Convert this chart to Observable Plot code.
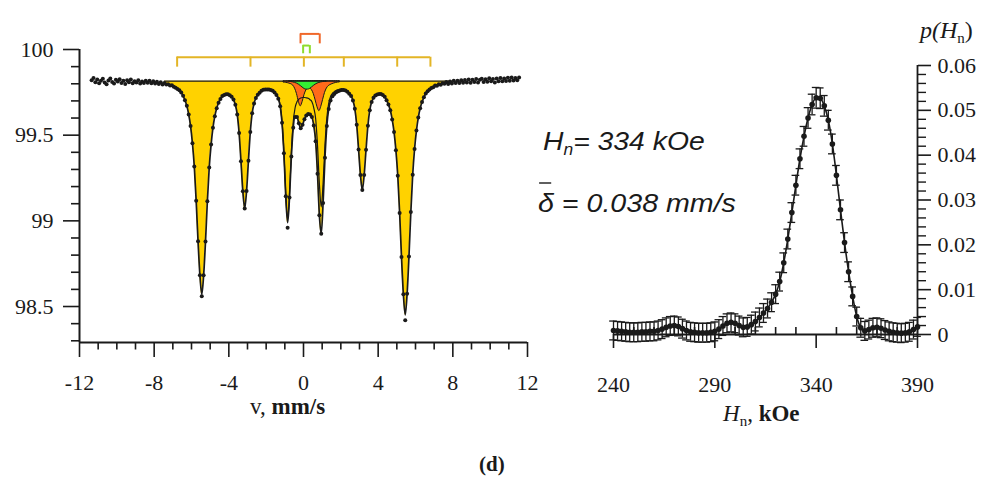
<!DOCTYPE html>
<html><head><meta charset="utf-8">
<script src="https://cdn.jsdelivr.net/npm/d3@7"></script>
<script src="https://cdn.jsdelivr.net/npm/@observablehq/plot@0.6"></script>
<style>
html,body{margin:0;padding:0;background:#fff;}
#fig{position:relative;width:987px;height:479px;overflow:hidden;background:#fff;}
#left{position:absolute;left:0;top:0;}
#right{position:absolute;left:560px;top:0;}
#ann{position:absolute;left:0;top:0;pointer-events:none;}
#left svg, #right svg, #left text, #right text, #left g, #right g {font-family: "Liberation Serif", "Times New Roman", serif !important;}
</style></head><body>
<div id="fig"><div id="left"></div><div id="right"></div><svg id="ann" width="987" height="479"></svg></div>
<script>
// ---------------- Left panel: Mössbauer spectrum ----------------
const vDomain = [-12, 12];
const tDomain = [98.29, 100];
const baseLevel = 99.815;

// measured points (velocity, mm/s ; transmission, %)
const specV = [
-11.35,-11.25,-11.15,-11.05,-10.95,-10.85,-10.75,-10.65,-10.55,-10.45,
-10.35,-10.25,-10.15,-10.05,-9.95,-9.85,-9.75,-9.65,-9.55,-9.45,
-9.35,-9.25,-9.15,-9.05,-8.95,-8.85,-8.75,-8.65,-8.55,-8.45,
-8.35,-8.25,-8.15,-8.05,-7.95,-7.85,-7.75,-7.65,-7.55,-7.45,
-7.35,-7.25,-7.15,-7.05,-6.95,-6.85,-6.75,-6.65,-6.55,-6.45,
-6.35,-6.25,-6.15,-6.05,-5.95,-5.85,-5.75,-5.65,-5.55,-5.45,
-5.35,-5.25,-5.15,-5.05,-4.95,-4.85,-4.75,-4.65,-4.55,-4.45,
-4.35,-4.25,-4.15,-4.05,-3.95,-3.85,-3.75,-3.65,-3.55,-3.45,
-3.35,-3.25,-3.15,-3.05,-2.95,-2.85,-2.75,-2.65,-2.55,-2.45,
-2.35,-2.25,-2.15,-2.05,-1.95,-1.85,-1.75,-1.65,-1.55,-1.45,
-1.35,-1.25,-1.15,-1.05,-0.95,-0.85,-0.75,-0.65,-0.55,-0.45,
-0.35,-0.25,-0.15,-0.05,0.05,0.15,0.25,0.35,0.45,0.55,
0.65,0.75,0.85,0.95,1.05,1.15,1.25,1.35,1.45,1.55,
1.65,1.75,1.85,1.95,2.05,2.15,2.25,2.35,2.45,2.55,
2.65,2.75,2.85,2.95,3.05,3.15,3.25,3.35,3.45,3.55,
3.65,3.75,3.85,3.95,4.05,4.15,4.25,4.35,4.45,4.55,
4.65,4.75,4.85,4.95,5.05,5.15,5.25,5.35,5.45,5.55,
5.65,5.75,5.85,5.95,6.05,6.15,6.25,6.35,6.45,6.55,
6.65,6.75,6.85,6.95,7.05,7.15,7.25,7.35,7.45,7.55,
7.65,7.75,7.85,7.95,8.05,8.15,8.25,8.35,8.45,8.55,
8.65,8.75,8.85,8.95,9.05,9.15,9.25,9.35,9.45,9.55,
9.65,9.75,9.85,9.95,10.05,10.15,10.25,10.35,10.45,10.55,
10.65,10.75,10.85,10.95,11.05,11.15,11.25,11.35,11.45,11.55];
const specT = [
99.821,99.833,99.809,99.825,99.803,99.817,99.829,99.807,99.797,99.819,
99.831,99.811,99.801,99.823,99.813,99.827,99.805,99.817,99.799,99.821,
99.809,99.825,99.803,99.815,99.807,99.821,99.801,99.813,99.805,99.817,
99.806,99.818,99.803,99.815,99.802,99.812,99.798,99.809,99.796,99.805,
99.796,99.797,99.790,99.791,99.782,99.777,99.770,99.762,99.749,99.730,
99.704,99.671,99.621,99.553,99.453,99.317,99.118,98.881,98.683,98.560,
98.682,98.879,99.114,99.311,99.445,99.544,99.611,99.657,99.689,99.711,
99.728,99.735,99.739,99.739,99.733,99.724,99.708,99.677,99.621,99.513,
99.348,99.173,99.072,99.174,99.350,99.518,99.628,99.685,99.717,99.736,
99.748,99.759,99.765,99.766,99.766,99.766,99.764,99.759,99.749,99.735,
99.713,99.669,99.572,99.395,99.143,98.960,99.136,99.376,99.543,99.606,
99.606,99.570,99.541,99.561,99.593,99.615,99.624,99.620,99.606,99.556,
99.465,99.275,99.033,98.925,99.104,99.368,99.554,99.653,99.703,99.727,
99.741,99.751,99.757,99.760,99.763,99.763,99.760,99.754,99.742,99.729,
99.702,99.654,99.561,99.417,99.268,99.180,99.267,99.415,99.555,99.646,
99.693,99.718,99.732,99.737,99.741,99.740,99.734,99.724,99.704,99.679,
99.645,99.592,99.519,99.412,99.263,99.046,98.789,98.572,98.420,98.574,
98.792,99.051,99.269,99.419,99.527,99.603,99.657,99.694,99.721,99.743,
99.757,99.767,99.775,99.780,99.790,99.788,99.797,99.794,99.803,99.800,
99.810,99.799,99.813,99.802,99.817,99.804,99.818,99.805,99.820,99.806,
99.822,99.807,99.825,99.806,99.823,99.810,99.828,99.807,99.824,99.830,
99.811,99.826,99.812,99.832,99.814,99.828,99.808,99.831,99.815,99.834,
99.814,99.831,99.816,99.835,99.818,99.836,99.819,99.834,99.820,99.837];

// total fit envelope, v = -7.45 … 7.95
const fitV = specV.filter(v => v >= -7.46 && v <= 7.96);
const fitT = [
99.800,
99.798,99.795,99.792,99.789,99.782,99.777,99.770,99.762,99.749,99.730,
99.704,99.671,99.621,99.553,99.453,99.317,99.118,98.881,98.683,98.571,
98.682,98.879,99.114,99.311,99.445,99.544,99.611,99.657,99.689,99.711,
99.728,99.735,99.739,99.739,99.733,99.724,99.708,99.677,99.621,99.513,
99.348,99.173,99.072,99.174,99.350,99.518,99.628,99.685,99.717,99.736,
99.748,99.759,99.765,99.766,99.766,99.766,99.764,99.759,99.749,99.735,
99.713,99.669,99.572,99.395,99.143,98.989,99.136,99.376,99.543,99.606,
99.606,99.570,99.541,99.561,99.593,99.615,99.624,99.620,99.606,99.556,
99.465,99.275,99.033,98.925,99.104,99.368,99.554,99.653,99.703,99.727,
99.741,99.751,99.757,99.760,99.763,99.763,99.760,99.754,99.742,99.729,
99.702,99.654,99.561,99.417,99.268,99.180,99.267,99.415,99.555,99.646,
99.693,99.718,99.732,99.737,99.741,99.740,99.734,99.724,99.704,99.679,
99.645,99.592,99.519,99.412,99.263,99.046,98.789,98.572,98.451,98.574,
98.792,99.051,99.269,99.419,99.527,99.603,99.657,99.694,99.721,99.743,
99.757,99.767,99.775,99.780,99.785,99.789,99.793,99.796,99.799,99.802,
99.804,99.805,99.807,99.808];

// sextet sub-spectrum near the centre, v = -1.55 … 2.45
const sexV = specV.filter(v => v >= -1.56 && v <= 2.46);
const sexT = [
99.752,99.739,99.718,99.675,99.579,99.403,99.155,99.010,99.154,99.400,
99.576,99.660,99.695,99.710,99.717,99.720,99.720,99.718,99.715,99.707,
99.695,99.660,99.597,99.441,99.218,99.082,99.219,99.441,99.600,99.685,
99.725,99.744,99.754,99.761,99.765,99.767,99.769,99.768,99.764,99.757,
99.745];

// orange doublet, v = -1.05 … 1.95
const orgV = specV.filter(v => v >= -1.06 && v <= 1.96);
const orgT = [
99.807,99.806,99.804,99.801,99.797,99.789,99.771,99.740,99.695,99.668,
99.693,99.733,99.761,99.773,99.773,99.763,99.740,99.703,99.663,99.640,
99.665,99.706,99.746,99.772,99.786,99.793,99.798,99.802,99.805,99.807,
99.808];

// green doublet, v = -0.75 … 1.25
const grnV = specV.filter(v => v >= -0.76 && v <= 1.26);
const grnT = [
99.811,99.810,99.808,99.805,99.801,99.795,99.787,99.778,99.770,99.766,
99.766,99.770,99.778,99.787,99.795,99.801,99.805,99.808,99.810,99.811,
99.812];

// stick diagrams
const sextetSticks = [-6.77, -2.84, 0.02, 2.16, 5.02, 6.80];
const sextetBar = [99.955, 99.897];
const orangeSticks = [-0.16, 0.87];
const orangeBar = [100.091, 100.033];
const greenSticks = [-0.02, 0.34];
const greenBar = [100.023, 99.975];

// axis ticks
const xMajorL = [-12, -8, -4, 0, 4, 8, 12];
const xMinorL = [-11,-10,-9,-7,-6,-5,-3,-2,-1,1,2,3,5,6,7,9,10,11];
const yMajorL = [98.5, 99, 99.5, 100];
const yMinorL = [98.3,98.4,98.6,98.7,98.8,98.9,99.1,99.2,99.3,99.4,99.6,99.7,99.8,99.9];

// ---------------- Right panel: p(Hn) distribution ----------------
const hDomain = [240, 390];
const pDomain = [0, 0.06];
const hVals = [
240,242,244,246,248,250,252,254,256,258,
260,262,264,266,268,270,272,274,276,278,
280,282,284,286,288,290,292,294,296,298,
300,302,304,306,308,310,312,314,316,318,
320,322,324,326,328,330,332,334,336,338,
340,342,344,346,348,350,352,354,356,358,
360,362,364,366,368,370,372,374,376,378,
380,382,384,386,388,390];
const pVals = [
0.0009,0.0008,0.0007,0.0006,0.0005,0.0005,0.0005,0.0006,0.0006,0.0007,
0.0007,0.0009,0.0012,0.0016,0.0019,0.0020,0.0018,0.0013,0.0009,0.0006,
0.0005,0.0004,0.0004,0.0004,0.0005,0.0007,0.0012,0.0019,0.0025,0.0027,
0.0025,0.0020,0.0016,0.0017,0.0022,0.0029,0.0038,0.0048,0.0058,0.0072,
0.0090,0.0118,0.0160,0.0213,0.0272,0.0333,0.0392,0.0442,0.0483,0.0513,
0.0528,0.0527,0.0510,0.0478,0.0425,0.0355,0.0278,0.0205,0.0140,0.0085,
0.0040,0.0015,0.0008,0.0011,0.0015,0.0016,0.0014,0.0010,0.0007,0.0005,
0.0004,0.0003,0.0004,0.0006,0.0011,0.0017];
const pErr = [
0.0021,0.0021,0.0021,0.0021,0.0021,0.0021,0.0021,0.0021,0.0021,0.0021,
0.0021,0.0021,0.0021,0.0021,0.0021,0.0021,0.0021,0.0021,0.0021,0.0021,
0.0021,0.0021,0.0021,0.0021,0.0021,0.0021,0.0021,0.0021,0.0021,0.0021,
0.0021,0.0021,0.0021,0.0021,0.0021,0.0021,0.0021,0.0021,0.0021,0.0021,
0.0021,0.0021,0.0022,0.0022,0.0022,0.0022,0.0022,0.0022,0.0023,0.0023,
0.0023,0.0023,0.0023,0.0022,0.0022,0.0022,0.0022,0.0022,0.0022,0.0021,
0.0021,0.0021,0.0021,0.0021,0.0021,0.0021,0.0021,0.0021,0.0021,0.0021,
0.0021,0.0021,0.0021,0.0021,0.0021,0.0021];
const xMajorR = [240, 290, 340, 390];
const xMinorR = [250,260,270,280,300,310,320,330,350,360,370,380];
const yMajorR = [0, 0.01, 0.02, 0.03, 0.04, 0.05, 0.06];
const yMinorR = [0.002,0.004,0.006,0.008,0.012,0.014,0.016,0.018,0.022,0.024,0.026,0.028,
  0.032,0.034,0.036,0.038,0.042,0.044,0.046,0.048,0.052,0.054,0.056,0.058];

// ---------------- build ----------------
const ink = "#1a1a1a";
const serif = "Liberation Serif";
const yellowFill = "#ffd200", yellowBar = "#e3b526";
const orangeFill = "#ff6a1a", orangeBarC = "#f0682a";
const greenFill = "#33ee33", greenBarC = "#8fdc2c";

const spec = specV.map((v, i) => ({v, t: specT[i]}));
const fit = fitV.map((v, i) => ({v, t: fitT[i]}));
const sex = sexV.map((v, i) => ({v, t: sexT[i]}));
const org = orgV.map((v, i) => ({v, t: orgT[i]}));
const grn = grnV.map((v, i) => ({v, t: grnT[i]}));

const leftPlot = Plot.plot({
  width: 560, height: 440,
  marginLeft: 79, marginRight: 33, marginTop: 49, marginBottom: 98,
  style: {fontFamily: serif, fontSize: "22px", color: ink, background: "transparent", overflow: "visible"},
  x: {domain: vDomain},
  y: {domain: tDomain},
  marks: [
    Plot.areaY(fit, {x: "v", y1: baseLevel, y2: "t", fill: yellowFill, curve: "monotone-x"}),
    Plot.areaY(org, {x: "v", y1: baseLevel, y2: "t", fill: orangeFill, stroke: ink, strokeWidth: 1, curve: "monotone-x"}),
    Plot.areaY(grn, {x: "v", y1: baseLevel, y2: "t", fill: greenFill, stroke: ink, strokeWidth: 1, curve: "monotone-x"}),
    Plot.line(sex, {x: "v", y: "t", stroke: ink, strokeWidth: 1.2, curve: "monotone-x"}),
    Plot.ruleY([baseLevel], {x1: fitV[0], x2: fitV[fitV.length - 1], stroke: ink, strokeWidth: 1.3}),
    Plot.line(fit, {x: "v", y: "t", stroke: ink, strokeWidth: 1.7, curve: "monotone-x"}),
    Plot.dot(spec, {x: "v", y: "t", r: 2, fill: ink, stroke: "none"}),
    // stick diagrams
    Plot.ruleY([sextetBar[0]], {x1: sextetSticks[0], x2: sextetSticks[sextetSticks.length - 1], stroke: yellowBar, strokeWidth: 2}),
    Plot.ruleX(sextetSticks, {y1: sextetBar[0], y2: sextetBar[1], stroke: yellowBar, strokeWidth: 2}),
    Plot.ruleY([orangeBar[0]], {x1: orangeSticks[0], x2: orangeSticks[1], stroke: orangeBarC, strokeWidth: 2}),
    Plot.ruleX(orangeSticks, {y1: orangeBar[0], y2: orangeBar[1], stroke: orangeBarC, strokeWidth: 2}),
    Plot.ruleY([greenBar[0]], {x1: greenSticks[0], x2: greenSticks[1], stroke: greenBarC, strokeWidth: 2}),
    Plot.ruleX(greenSticks, {y1: greenBar[0], y2: greenBar[1], stroke: greenBarC, strokeWidth: 2}),
    // axes
    Plot.ruleX([vDomain[0]], {stroke: ink, strokeWidth: 2}),
    Plot.ruleY([tDomain[0]], {stroke: ink, strokeWidth: 2}),
    Plot.axisY(yMajorL, {anchor: "left", tickSize: 16, tickPadding: 10, strokeWidth: 1.6, fontFamily: serif, tickFormat: d => String(d), label: null}),
    Plot.axisY(yMinorL, {anchor: "left", tickSize: 8, strokeWidth: 1.6, fill: "none", label: null}),
    Plot.axisX(xMajorL, {anchor: "bottom", tickSize: 15, tickPadding: 17, strokeWidth: 1.6, fontFamily: serif, tickFormat: d => String(d), label: null}),
    Plot.axisX(xMinorL, {anchor: "bottom", tickSize: 7.5, strokeWidth: 1.6, fill: "none", label: null})
  ]
});
document.getElementById("left").appendChild(leftPlot);

const dist = hVals.map((h, i) => ({h, p: pVals[i], lo: pVals[i] - pErr[i], hi: pVals[i] + pErr[i]}));
const rightPlot = Plot.plot({
  width: 427, height: 440,
  marginLeft: 53, marginRight: 70, marginTop: 65, marginBottom: 106,
  style: {fontFamily: serif, fontSize: "22px", color: ink, background: "transparent", overflow: "visible"},
  x: {domain: hDomain},
  y: {domain: pDomain},
  marks: [
    Plot.ruleY([pDomain[0]], {stroke: ink, strokeWidth: 1.8}),
    Plot.ruleX([hDomain[1]], {stroke: ink, strokeWidth: 1.8}),
    Plot.ruleX(dist, {x: "h", y1: "lo", y2: "hi", stroke: ink, strokeWidth: 1.3}),
    Plot.ruleY(dist, {y: "hi", x1: d => d.h - 1.9, x2: d => d.h + 1.9, stroke: ink, strokeWidth: 1.3}),
    Plot.ruleY(dist, {y: "lo", x1: d => d.h - 1.9, x2: d => d.h + 1.9, stroke: ink, strokeWidth: 1.3}),
    Plot.line(dist, {x: "h", y: "p", stroke: ink, strokeWidth: 1.6, curve: "monotone-x"}),
    Plot.dot(dist, {x: "h", y: "p", r: 2.8, fill: ink, stroke: "none"}),
    Plot.axisX(xMajorR, {anchor: "bottom", tickSize: 14, tickPadding: 28, strokeWidth: 1.6, fontFamily: serif, tickFormat: d => String(d), label: null}),
    Plot.axisX(xMinorR, {anchor: "bottom", tickSize: 7, dy: -7, strokeWidth: 1.6, fill: "none", label: null}),
    Plot.axisY(yMajorR, {anchor: "right", tickSize: 13, tickPadding: 7, strokeWidth: 1.6, fontFamily: serif, tickFormat: d => d === 0 ? "0" : d.toFixed(2), label: null}),
    Plot.axisY(yMinorR, {anchor: "right", tickSize: 8, strokeWidth: 1.4, fill: "none", label: null})
  ]
});
document.getElementById("right").appendChild(rightPlot);

for (const svg of [leftPlot, rightPlot]) {
  svg.setAttribute("font-family", serif);
  d3.select(svg).selectAll("text").attr("font-family", serif);
}

// ---------------- annotations ----------------
const ann = d3.select("#ann");
const sans = "Liberation Sans";

const g1 = ann.append("g").attr("transform", "translate(543,150) scale(1.09,1)");
const t1 = g1.append("text").attr("font-family", sans).attr("font-style", "italic").attr("font-size", 26).attr("fill", ink).style("white-space", "pre");
t1.append("tspan").text("H");
t1.append("tspan").attr("font-size", 16).attr("dy", 5).text("n");
t1.append("tspan").attr("dy", -5).text("= 334 kOe");

const g2 = ann.append("g").attr("transform", "translate(538,212) scale(1.1,1)");
g2.append("text").attr("font-family", sans).attr("font-style", "italic").attr("font-size", 26).attr("fill", ink).style("white-space", "pre").text("δ = 0.038 mm/s");
g2.append("line").attr("x1", 1).attr("x2", 12).attr("y1", -29).attr("y2", -29).attr("stroke", ink).attr("stroke-width", 1.4);

const t3 = ann.append("text").attr("x", 920).attr("y", 38).attr("font-family", serif).attr("font-size", 24).attr("fill", ink).style("white-space", "pre");
t3.append("tspan").attr("font-style", "italic").text("p(H");
t3.append("tspan").attr("font-size", 15).attr("dy", 5).text("n");
t3.append("tspan").attr("dy", -5).text(")");

const t4 = ann.append("text").attr("x", 250).attr("y", 414).attr("font-family", serif).attr("font-size", 23).attr("fill", ink).style("white-space", "pre");
t4.append("tspan").text("v, ");
t4.append("tspan").attr("font-weight", "bold").text("mm/s");

const t5 = ann.append("text").attr("x", 723).attr("y", 421).attr("font-family", serif).attr("font-size", 23).attr("fill", ink).style("white-space", "pre");
t5.append("tspan").attr("font-style", "italic").text("H");
t5.append("tspan").attr("font-size", 15).attr("dy", 5).text("n");
t5.append("tspan").attr("dy", -5).text(", ");
t5.append("tspan").attr("font-weight", "bold").text("kOe");

ann.append("text").attr("x", 479).attr("y", 471).attr("font-family", serif).attr("font-size", 21).attr("font-weight", "bold").attr("fill", ink).text("(d)");
</script>
</body></html>
